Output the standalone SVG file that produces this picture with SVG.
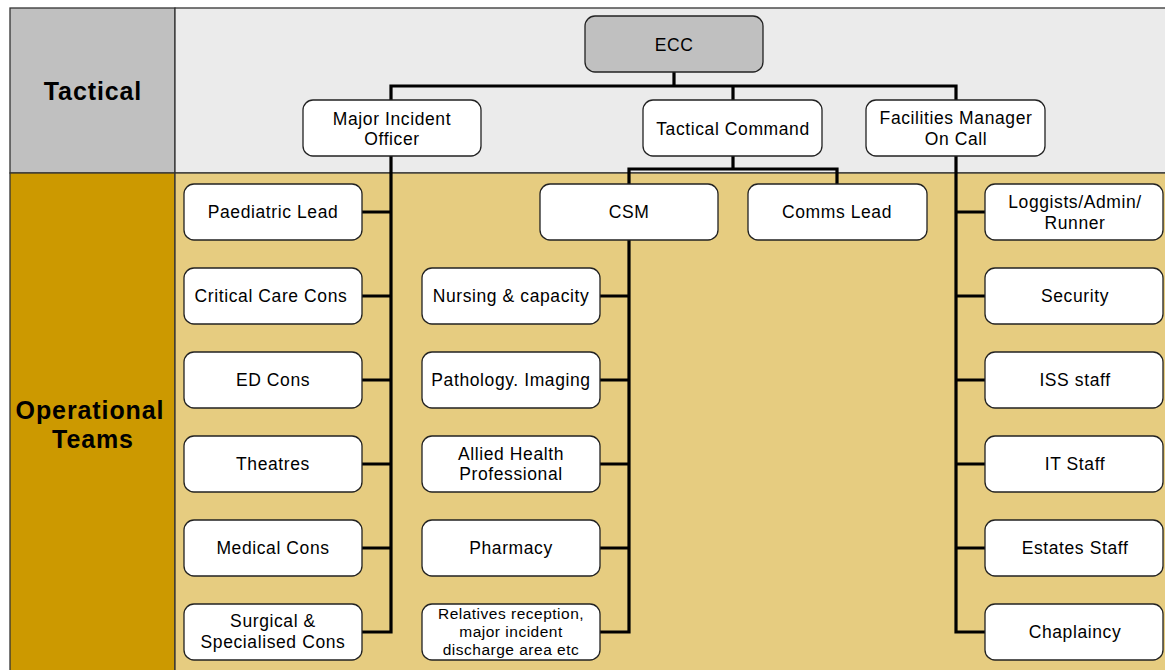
<svg xmlns="http://www.w3.org/2000/svg" width="1165" height="670" viewBox="0 0 1165 670">
<style>
.n{fill:#fff;stroke:#222;stroke-width:1.3}
.t{font-family:"Liberation Sans",Arial,sans-serif;font-size:17.5px;letter-spacing:0.6px;fill:#000;text-anchor:middle}
.s{font-size:15.5px;letter-spacing:0.5px}
.h{font-family:"Liberation Sans",Arial,sans-serif;font-size:25px;letter-spacing:0.9px;font-weight:bold;fill:#000;text-anchor:middle}
.c{fill:none;stroke:#000;stroke-width:3.2}
</style>
<rect width="1165" height="670" fill="#fff"/>
<g id="lanes">
<rect x="10" y="8" width="165" height="165" fill="#c0c0c0" stroke="#333" stroke-width="1.3"/>
<rect x="175" y="8" width="995" height="165" fill="#ebebeb" stroke="#333" stroke-width="1.3"/>
<rect x="10" y="173" width="165" height="500" fill="#cc9900" stroke="#333" stroke-width="1.3"/>
<rect x="175" y="173" width="995" height="500" fill="#e6cc80" stroke="#333" stroke-width="1.3"/>
<text class="h" x="93" y="100">Tactical</text>
<text class="h" x="90" y="419">Operational</text>
<text class="h" x="93" y="448">Teams</text>
</g>
<g id="connectors">
<path class="c" d="M674 72V86M391 100V86H956V100M733 86V100"/>
<path class="c" d="M733 156V169M629 184V169H837V184"/>
<path class="c" d="M391 156V632H362M391 212H362M391 296H362M391 380H362M391 464H362M391 548H362"/>
<path class="c" d="M629 240V632H600M629 296H600M629 380H600M629 464H600M629 548H600"/>
<path class="c" d="M956 156V632H985M956 212H985M956 296H985M956 380H985M956 464H985M956 548H985"/>
</g>
<g id="ecc"><rect x="585" y="16" width="178" height="56" rx="10" fill="#c0c0c0" stroke="#222" stroke-width="1.3"/><text class="t" x="674" y="51">ECC</text></g>
<g id="mio"><rect class="n" x="303" y="100" width="178" height="56" rx="10"/><text class="t" x="392" y="125">Major Incident</text><text class="t" x="392" y="145">Officer</text></g>
<g id="tc"><rect class="n" x="643" y="100" width="179" height="56" rx="10"/><text class="t" x="733" y="135">Tactical Command</text></g>
<g id="fm"><rect class="n" x="866" y="100" width="179" height="56" rx="10"/><text class="t" x="956" y="124">Facilities Manager</text><text class="t" x="956" y="145">On Call</text></g>
<g id="csm"><rect class="n" x="540" y="184" width="178" height="56" rx="10"/><text class="t" x="629" y="218">CSM</text></g>
<g id="comms"><rect class="n" x="748" y="184" width="179" height="56" rx="10"/><text class="t" x="837" y="218">Comms Lead</text></g>
<g id="paed"><rect class="n" x="184" y="184" width="178" height="56" rx="10"/><text class="t" x="273" y="218">Paediatric Lead</text></g>
<g id="ccc"><rect class="n" x="184" y="268" width="178" height="56" rx="10"/><text class="t" x="271" y="302">Critical Care Cons</text></g>
<g id="ed"><rect class="n" x="184" y="352" width="178" height="56" rx="10"/><text class="t" x="273" y="386">ED Cons</text></g>
<g id="theatres"><rect class="n" x="184" y="436" width="178" height="56" rx="10"/><text class="t" x="273" y="470">Theatres</text></g>
<g id="med"><rect class="n" x="184" y="520" width="178" height="56" rx="10"/><text class="t" x="273" y="554">Medical Cons</text></g>
<g id="surg"><rect class="n" x="184" y="604" width="178" height="56" rx="10"/><text class="t" x="273" y="627">Surgical &amp;</text><text class="t" x="273" y="648">Specialised Cons</text></g>
<g id="nursing"><rect class="n" x="422" y="268" width="178" height="56" rx="10"/><text class="t" x="511" y="302">Nursing &amp; capacity</text></g>
<g id="path"><rect class="n" x="422" y="352" width="178" height="56" rx="10"/><text class="t" x="511" y="386">Pathology. Imaging</text></g>
<g id="ahp"><rect class="n" x="422" y="436" width="178" height="56" rx="10"/><text class="t" x="511" y="460">Allied Health</text><text class="t" x="511" y="480">Professional</text></g>
<g id="pharm"><rect class="n" x="422" y="520" width="178" height="56" rx="10"/><text class="t" x="511" y="554">Pharmacy</text></g>
<g id="rel"><rect class="n" x="422" y="604" width="178" height="56" rx="10"/><text class="t s" x="511" y="619">Relatives reception,</text><text class="t s" x="511" y="637">major incident</text><text class="t s" x="511" y="655">discharge area etc</text></g>
<g id="log"><rect class="n" x="985" y="184" width="178" height="56" rx="10"/><text class="t" x="1075" y="208">Loggists/Admin/</text><text class="t" x="1075" y="229">Runner</text></g>
<g id="sec"><rect class="n" x="985" y="268" width="178" height="56" rx="10"/><text class="t" x="1075" y="302">Security</text></g>
<g id="iss"><rect class="n" x="985" y="352" width="178" height="56" rx="10"/><text class="t" x="1075" y="386">ISS staff</text></g>
<g id="it"><rect class="n" x="985" y="436" width="178" height="56" rx="10"/><text class="t" x="1075" y="470">IT Staff</text></g>
<g id="est"><rect class="n" x="985" y="520" width="178" height="56" rx="10"/><text class="t" x="1075" y="554">Estates Staff</text></g>
<g id="chap"><rect class="n" x="985" y="604" width="178" height="56" rx="10"/><text class="t" x="1075" y="638">Chaplaincy</text></g>
</svg>
